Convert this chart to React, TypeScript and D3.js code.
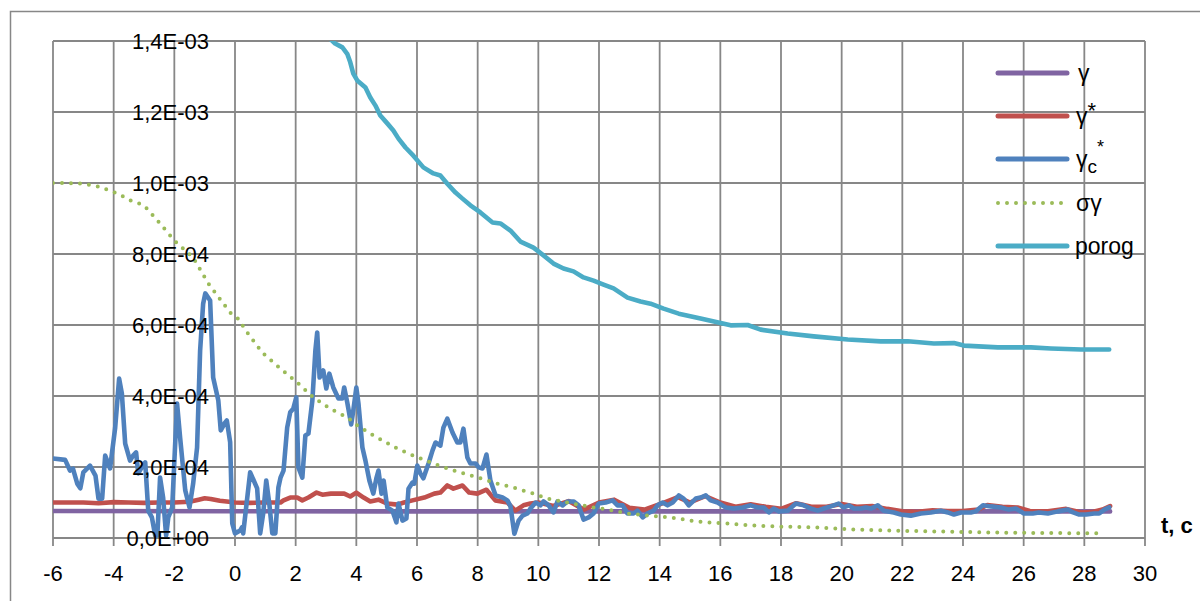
import React from 'react';
import * as d3 from 'd3';

// values are in units of 1e-4
const xTicks = [-6, -4, -2, 0, 2, 4, 6, 8, 10, 12, 14, 16, 18, 20, 22, 24, 26, 28, 30];
const yTicks = [0, 2, 4, 6, 8, 10, 12, 14];
const yTickLabels = ['0,0E+00', '2,0E-04', '4,0E-04', '6,0E-04', '8,0E-04', '1,0E-03', '1,2E-03', '1,4E-03'];

const gammaT = [-6, 0, 5, 10, 15, 20, 25, 28.85];
const gammaV = [0.76, 0.755, 0.75, 0.75, 0.75, 0.75, 0.75, 0.75];

const gammaStarT = [
  -6, -5, -4.5, -4, -3.5, -3, -2.5, -2, -1.5, -1.2, -1.0, -0.8, -0.5, -0.2, 0, 0.5, 1.0, 1.5, 1.6, 1.82,
  2.05, 2.22, 2.42, 2.69, 2.88, 3.16, 3.6, 3.8, 4.0, 4.24, 4.46, 4.73, 5.02, 5.35, 5.57, 5.85, 6.24, 6.57,
  6.77, 7.0, 7.2, 7.5, 7.72, 7.99, 8.29, 8.58, 8.98, 9.24, 9.51, 9.74, 10.0, 10.5, 11.0, 11.5, 12.0, 12.5,
  13.0, 13.5, 14.0, 14.6, 15.0, 15.5, 16.0, 16.5, 17.0, 17.5, 18.0, 18.5, 19.0, 19.5, 20.0, 20.5, 21.0,
  21.5, 22.0, 22.5, 23.0, 23.5, 24.0, 24.5, 24.8, 25.3, 25.8, 26.2, 26.8, 27.4, 27.9, 28.3, 28.6, 28.85,
];
const gammaStarV = [
  1.0, 1.0, 0.98, 1.01, 1.0, 0.99, 1.0, 1.0, 1.02, 1.08, 1.12, 1.1, 1.05, 1.02, 1.0, 0.99, 1.0, 1.0, 1.06, 1.14,
  1.14, 1.06, 1.14, 1.28, 1.22, 1.25, 1.25, 1.17, 1.28, 1.14, 1.03, 1.08, 0.97, 0.94, 1.0, 1.06, 1.14, 1.25,
  1.28, 1.48, 1.39, 1.48, 1.28, 1.25, 1.36, 1.06, 1.0, 0.77, 0.92, 0.97, 1.0, 0.9, 1.04, 0.8, 1.0, 1.08,
  0.85, 0.8, 0.95, 1.15, 1.0, 1.18, 1.0, 0.88, 0.95, 0.88, 0.82, 0.98, 0.88, 0.88, 0.96, 0.88, 0.9,
  0.82, 0.75, 0.74, 0.78, 0.76, 0.76, 0.8, 0.93, 0.88, 0.86, 0.76, 0.75, 0.82, 0.72, 0.74, 0.8, 0.9,
];

const gammaCT = [
  -6.0, -5.6, -5.44, -5.34, -5.2, -5.1, -5.0, -4.78, -4.6, -4.5, -4.38, -4.28, -4.12, -3.95, -3.82, -3.73,
  -3.62, -3.46, -3.36, -3.26, -3.19, -3.07, -2.96, -2.86, -2.74, -2.63, -2.56, -2.47, -2.37, -2.27, -2.2,
  -2.07, -1.91, -1.81, -1.64, -1.5, -1.38, -1.25, -1.15, -1.05, -0.98, -0.82, -0.72, -0.55, -0.47, -0.33,
  -0.27, -0.16, -0.09, 0.0, 0.17, 0.23, 0.27, 0.5, 0.73, 0.83, 0.93, 1.03, 1.13, 1.23, 1.33, 1.43, 1.5,
  1.6, 1.72, 1.82, 1.92, 2.02, 2.09, 2.22, 2.32, 2.42, 2.55, 2.65, 2.71, 2.79, 2.91, 3.01, 3.11, 3.24,
  3.41, 3.54, 3.6, 3.7, 3.83, 3.9, 4.0, 4.07, 4.2, 4.3, 4.43, 4.56, 4.66, 4.73, 4.83, 4.9, 5.02, 5.19,
  5.32, 5.39, 5.52, 5.65, 5.72, 5.85, 5.91, 6.01, 6.11, 6.21, 6.38, 6.51, 6.61, 6.77, 6.87, 7.0, 7.17,
  7.33, 7.43, 7.53, 7.66, 7.76, 7.93, 8.03, 8.16, 8.29, 8.42, 8.59, 8.82, 8.98, 9.08, 9.21, 9.35, 9.48,
  9.64, 9.74, 9.91, 10.07, 10.17, 10.34, 10.5, 10.63, 10.8, 10.96, 11.16, 11.33, 11.49, 11.66, 11.82,
  11.99, 12.22, 12.45, 12.61, 12.78, 12.94, 13.14, 13.27, 13.44, 13.6, 13.8, 13.93, 14.1, 14.26, 14.43,
  14.63, 14.79, 14.96, 15.19, 15.35, 15.52, 15.68, 15.91, 16.18, 16.44, 16.74, 17.0, 17.23, 17.43, 17.6,
  17.76, 17.93, 18.22, 18.49, 18.75, 18.98, 19.21, 19.41, 19.64, 19.9, 20.07, 20.24, 20.4, 20.63, 20.8,
  20.96, 21.19, 21.39, 21.72, 21.95, 22.28, 22.61, 22.94, 23.27, 23.5, 23.7, 23.93, 24.26, 24.42, 24.66,
  24.92, 25.25, 25.51, 25.74, 26.01, 26.3, 26.5, 26.8, 27.13, 27.46, 27.63, 27.83, 28.06, 28.32, 28.49,
  28.66, 28.82,
];
const gammaCV = [
  2.24, 2.2, 1.9, 1.95, 1.53, 1.4, 1.85, 2.04, 1.76, 1.11, 1.11, 2.32, 1.96, 3.11, 4.49, 4.07,
  2.66, 2.18, 2.32, 2.41, 1.82, 2.0, 2.13, 0.77, 0.58, 0.07, 0.07, 1.7, 1.14, 0.07, 0.58,
  0.86, 3.79, 2.83, 1.34, 0.86, 1.53, 2.55, 5.28, 6.6, 6.89, 6.69, 4.52, 3.87, 3.03, 3.25,
  3.31, 2.7, 0.41, 0.13, 0.21, 0.3, 0.13, 1.85, 1.4, 0.13, 0.69, 1.62, 0.97, 0.13, 0.13, 1.42, 1.7,
  1.9, 3.11, 3.54, 3.64, 3.96, 1.99, 1.7, 2.89, 2.94, 3.87, 5.28, 5.79, 4.52, 4.72, 4.21, 4.63, 4.24,
  3.93, 3.93, 4.24, 3.82, 3.2, 3.59, 4.24, 3.79, 2.55, 2.18, 1.62, 1.25, 1.68, 1.9, 1.25, 1.62, 0.86, 0.77,
  0.44, 0.97, 0.49, 0.55, 1.39, 1.56, 1.53, 2.04, 1.82, 1.68, 2.1, 2.46, 2.69, 2.6, 3.11, 3.36, 2.97,
  2.69, 2.69, 3.08, 2.27, 2.1, 2.1, 1.99, 1.96, 2.35, 1.62, 1.2, 1.14, 1.06, 0.9, 0.12, 0.49, 0.63,
  0.69, 0.83, 1.0, 0.92, 1.03, 0.92, 0.72, 1.03, 0.92, 1.03, 1.03, 0.92, 0.52, 0.58, 0.69,
  0.97, 1.0, 1.06, 0.92, 0.92, 0.69, 0.69, 0.77, 0.58, 0.69, 0.77, 0.92, 1.0, 0.92, 1.0,
  1.2, 1.11, 0.92, 1.11, 1.14, 1.2, 1.06, 1.0, 0.86, 0.83, 0.86, 0.92, 0.86, 0.86, 0.72,
  0.83, 0.75, 0.77, 0.97, 0.92, 0.83, 0.77, 0.83, 0.89, 0.97, 0.86, 0.92, 0.83, 0.83, 0.86,
  0.83, 0.92, 0.77, 0.72, 0.66, 0.63, 0.69, 0.72, 0.77, 0.72, 0.66, 0.72, 0.72, 0.75, 0.92,
  0.89, 0.86, 0.8, 0.83, 0.69, 0.69, 0.72, 0.69, 0.75, 0.8, 0.72, 0.66, 0.66, 0.69, 0.69,
  0.8, 0.86,
];

const sigmaT = [
  -6, -5.5, -5, -4.5, -4.05, -3.79, -3.52, -3, -2.5, -2, -1.38, -0.88, -0.16, 0.1, 0.4, 0.77, 0.93, 1.5,
  2.05, 2.58, 3.14, 3.7, 4.03, 4.56, 5.35, 5.88, 6.44, 7.0, 7.53, 8.09, 8.65, 9.19, 9.84, 10.3, 10.96,
  11.62, 12.28, 12.94, 13.6, 14.37, 15.25, 16.18, 17.1, 17.99, 19.08, 20.4, 22, 23.5, 25.25, 27, 28.66,
];
const sigmaV = [
  10.0, 10.0, 9.98, 9.9, 9.76, 9.67, 9.53, 9.37, 8.89, 8.38, 7.9, 7.17, 6.35, 6.18, 5.79, 5.37, 5.2, 4.77,
  4.38, 3.96, 3.64, 3.4, 3.17, 2.89, 2.52, 2.32, 2.13, 1.96, 1.82, 1.68, 1.53, 1.42, 1.25, 1.11, 1.0,
  0.89, 0.8, 0.69, 0.63, 0.58, 0.46, 0.41, 0.35, 0.32, 0.3, 0.24, 0.2, 0.18, 0.15, 0.14, 0.13,
];

const porogT = [
  3.15, 3.3, 3.54, 3.7, 3.8, 3.9, 4.03, 4.3, 4.46, 4.63, 4.79, 5.02, 5.22, 5.39, 5.62, 5.88, 6.21, 6.54,
  6.77, 7.0, 7.27, 7.5, 7.76, 8.09, 8.49, 8.75, 9.08, 9.41, 9.84, 10.17, 10.5, 10.83, 11.16, 11.49, 11.82,
  12.15, 12.48, 12.94, 13.37, 13.7, 14.13, 14.63, 15.35, 16.34, 16.9, 17.33, 18.22, 19.08, 20.2, 21.29,
  22.18, 23.04, 23.7, 24.03, 25.15, 26.24, 26.9, 27.89, 28.82,
];
const porogV = [
  14.05, 13.93, 13.82, 13.64, 13.4, 13.08, 12.89, 12.69, 12.41, 12.18, 11.9, 11.68, 11.48, 11.25, 11.0, 10.77, 10.44, 10.27,
  10.21, 9.98, 9.73, 9.56, 9.37, 9.17, 8.89, 8.86, 8.66, 8.35, 8.18, 7.96, 7.73, 7.59, 7.51, 7.34, 7.25,
  7.14, 7.03, 6.77, 6.66, 6.6, 6.46, 6.32, 6.18, 5.99, 6.0, 5.87, 5.76, 5.68, 5.59, 5.54,
  5.54, 5.48, 5.49, 5.42, 5.37, 5.37, 5.34, 5.31, 5.31,
];

const series = [
  { name: 'gamma', t: gammaT, v: gammaV, color: '#8064A2', dotted: false },
  { name: 'gammaStar', t: gammaStarT, v: gammaStarV, color: '#C0504D', dotted: false },
  { name: 'gammaC', t: gammaCT, v: gammaCV, color: '#4F81BD', dotted: false },
  { name: 'sigma', t: sigmaT, v: sigmaV, color: '#9BBB59', dotted: true },
  { name: 'porog', t: porogT, v: porogV, color: '#4BACC6', dotted: false },
];

const FONT = '"Liberation Sans", Arial, sans-serif';
const GRID = '#878787';

export default function App() {
  const W = 1200;
  const H = 601;
  const left = 53;
  const right = 1145;
  const top = 41;
  const bottom = 538;

  const x = d3.scaleLinear().domain([-6, 30]).range([left, right]);
  const y = d3.scaleLinear().domain([0, 14]).range([bottom, top]);

  const line = d3
    .line<[number, number]>()
    .x((d) => x(d[0]))
    .y((d) => y(d[1]));

  const legendY = [73, 116, 159, 203, 246];

  return (
    <svg
      width={W}
      height={H}
      style={{ position: 'absolute', left: 0, top: 0, background: '#fff' }}
      fontFamily={FONT}
    >
      <defs>
        <clipPath id="plot">
          <rect x={left} y={top} width={right - left} height={bottom - top} />
        </clipPath>
      </defs>
      <rect x={10.5} y={11.5} width={1200} height={620} fill="#fff" stroke={GRID} strokeWidth={1.5} />

      {/* grid */}
      {yTicks.map((t) => (
        <line key={'h' + t} x1={left} x2={right} y1={y(t)} y2={y(t)} stroke={GRID} strokeWidth={1.8} />
      ))}
      {xTicks.map((t) => (
        <line key={'v' + t} x1={x(t)} x2={x(t)} y1={top} y2={bottom + 8} stroke={GRID} strokeWidth={1.8} />
      ))}

      {/* series */}
      <g clipPath="url(#plot)">
        {series.map((s) => (
          <path
            key={s.name}
            d={line(s.t.map((t, i) => [t, s.v[i]] as [number, number])) || ''}
            fill="none"
            stroke={s.color}
            strokeWidth={s.dotted ? 4 : 4.6}
            strokeLinejoin="round"
            strokeLinecap="round"
            strokeDasharray={s.dotted ? '0 9' : undefined}
          />
        ))}
      </g>

      {/* y labels */}
      {yTicks.map((t, i) => (
        <text key={'yl' + t} x={x(0) - 26} y={y(t) + 8} textAnchor="end" fontSize={22} fill="#000">
          {yTickLabels[i]}
        </text>
      ))}

      {/* x labels */}
      {xTicks.map((t) => (
        <text key={'xl' + t} x={x(t)} y={581} textAnchor="middle" fontSize={22} fill="#000">
          {t}
        </text>
      ))}
      <text x={1161} y={533} fontSize={22} fontWeight="bold" fill="#000">
        t, c
      </text>

      {/* legend */}
      {series.map((s, i) => (
        <line
          key={'lg' + s.name}
          x1={998}
          x2={1067}
          y1={legendY[i]}
          y2={legendY[i]}
          stroke={s.color}
          strokeWidth={s.dotted ? 4 : 5}
          strokeLinecap="round"
          strokeDasharray={s.dotted ? '0 9' : undefined}
        />
      ))}
      <g fontSize={23} fill="#000">
        <text x={1078} y={legendY[0] + 8}>γ</text>
        <text x={1076} y={legendY[1] + 8}>
          γ<tspan dy={-6} fontSize={22}>*</tspan>
        </text>
        <text x={1076} y={legendY[2] + 8}>
          γ<tspan dy={6} fontSize={19}>c</tspan>
          <tspan dy={-20} fontSize={18}>*</tspan>
        </text>
        <text x={1076} y={legendY[3] + 8}>σγ</text>
        <text x={1075} y={legendY[4] + 8}>porog</text>
      </g>
    </svg>
  );
}
